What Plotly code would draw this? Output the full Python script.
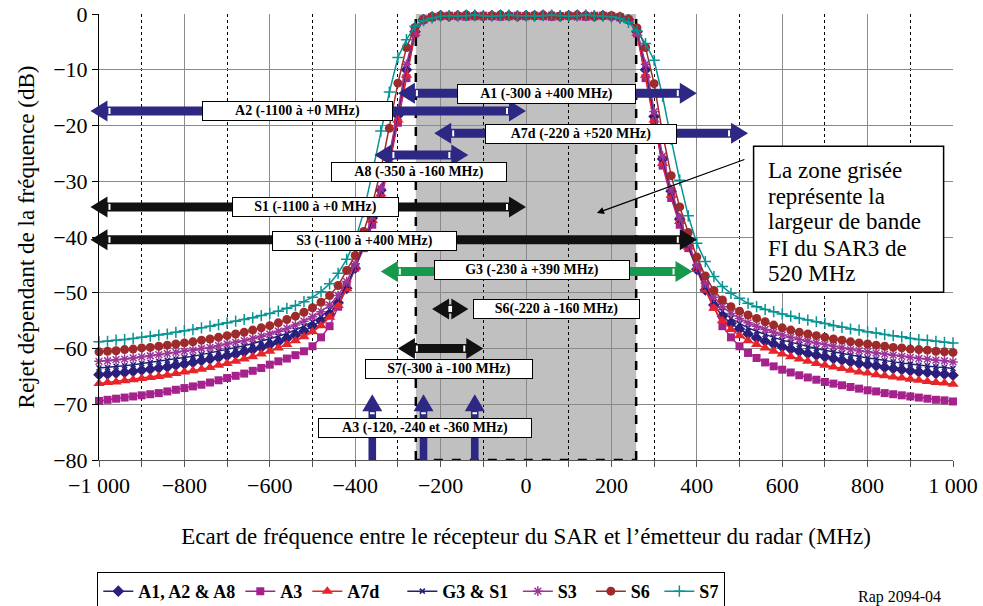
import plotly.graph_objects as go

# ---------------- data ----------------
freq = list(range(-1000, 1001, 20))

s_a1 = [-64.7, -64.6, -64.4, -64.3, -64.1, -63.9, -63.7, -63.5, -63.3, -63.0, -62.8, -62.5, -62.2, -61.9, -61.6, -61.3, -61.0, -60.6, -60.2, -59.8, -59.3, -58.8, -58.2, -57.6, -56.9,
        -56.0, -55.0, -53.8, -51.8, -49.2, -45.6, -41.3, -36.6, -31.6, -25.8, -18.2, -10.0, -3.2,
        -1.0, -0.5, -0.3, -0.4, -0.3, -0.2, -0.3, -0.4, -0.3, -0.2, -0.3, -0.4,
        -0.3,
        -0.3, -0.2, -0.3, -0.4, -0.3, -0.2, -0.3, -0.4, -0.3, -0.4, -0.6,
        -1.0, -3.2, -10.0, -18.4, -26.0, -31.8, -36.8, -41.5, -45.8, -49.5, -52.2, -54.2, -55.5, -56.5,
        -57.4, -58.1, -58.7, -59.2, -59.7, -60.1, -60.5, -60.9, -61.2, -61.5, -61.8, -62.1, -62.4, -62.7, -62.9, -63.1, -63.4, -63.6, -63.8, -64.0, -64.2, -64.3, -64.5, -64.6, -64.8]

s_a3 = [-69.4, -69.2, -69.0, -68.8, -68.6, -68.4, -68.2, -68.0, -67.7, -67.4, -67.1, -66.8, -66.5, -66.1, -65.7, -65.3, -64.9, -64.5, -64.0, -63.5, -62.9, -62.3, -61.8, -61.2, -60.5,
        -59.6, -58.0, -56.0, -52.5, -48.8, -45.5, -42.0, -37.8, -33.0, -27.2, -19.5, -11.5, -3.5,
        -1.0, -0.6, -0.4, -0.3, -0.4, -0.5, -0.4, -0.3, -0.4, -0.5, -0.4, -0.3,
        -0.4,
        -0.3, -0.4, -0.5, -0.4, -0.3, -0.4, -0.5, -0.4, -0.3, -0.4, -0.6,
        -1.0, -3.5, -11.5, -19.5, -27.2, -33.0, -37.8, -42.0, -45.5, -48.8, -52.5, -56.0, -58.0, -59.6,
        -60.8, -61.7, -62.5, -63.2, -63.8, -64.3, -64.8, -65.2, -65.6, -66.0, -66.3, -66.6, -66.9, -67.2, -67.5, -67.7, -68.0, -68.2, -68.4, -68.6, -68.8, -69.0, -69.2, -69.3, -69.5]

s_a7d = [-66.3, -66.1, -66.0, -65.8, -65.6, -65.4, -65.2, -65.0, -64.8, -64.5, -64.2, -64.0, -63.7, -63.4, -63.0, -62.7, -62.3, -61.9, -61.5, -61.0, -60.5, -59.9, -59.3, -58.6, -57.9,
         -57.0, -55.9, -54.4, -52.3, -49.3, -45.5, -41.5, -37.0, -32.3, -26.6, -19.0, -11.0, -3.5,
         -1.0, -0.5, -0.4, -0.3, -0.2, -0.3, -0.4, -0.3, -0.2, -0.3, -0.4, -0.3,
         -0.3,
         -0.4, -0.3, -0.2, -0.3, -0.4, -0.3, -0.2, -0.3, -0.4, -0.3, -0.6,
         -1.0, -3.5, -11.0, -19.0, -26.8, -32.5, -37.2, -41.8, -45.8, -49.5, -52.8, -55.0, -56.6, -57.7,
         -58.6, -59.3, -59.9, -60.5, -61.0, -61.5, -61.9, -62.3, -62.7, -63.0, -63.3, -63.6, -63.9, -64.2, -64.4, -64.7, -64.9, -65.1, -65.3, -65.5, -65.7, -65.9, -66.1, -66.2, -66.4]

s_g3s1 = [-63.5, -63.4, -63.2, -63.1, -62.9, -62.7, -62.5, -62.3, -62.1, -61.9, -61.6, -61.4, -61.1, -60.8, -60.5, -60.2, -59.9, -59.5, -59.1, -58.7, -58.3, -57.8, -57.3, -56.7, -56.0,
          -55.2, -54.3, -53.0, -51.3, -48.7, -45.4, -41.3, -36.8, -31.8, -25.8, -17.8, -9.5, -3.0,
          -1.0, -0.5, -0.3, -0.3, -0.4, -0.3, -0.2, -0.3, -0.4, -0.3, -0.3, -0.4,
          -0.3,
          -0.3, -0.4, -0.3, -0.2, -0.3, -0.4, -0.3, -0.3, -0.4, -0.3, -0.6,
          -1.0, -3.0, -9.5, -18.0, -26.0, -32.0, -37.0, -41.5, -45.6, -49.0, -51.6, -53.3, -54.6, -55.5,
          -56.3, -56.9, -57.5, -58.0, -58.5, -58.9, -59.3, -59.7, -60.0, -60.3, -60.6, -60.9, -61.2, -61.5, -61.7, -61.9, -62.2, -62.4, -62.6, -62.8, -63.0, -63.1, -63.3, -63.4, -63.6]

s_s3 = [-62.3, -62.2, -62.0, -61.9, -61.7, -61.5, -61.3, -61.1, -60.9, -60.7, -60.5, -60.3, -60.0, -59.8, -59.5, -59.2, -58.9, -58.6, -58.2, -57.8, -57.4, -56.9, -56.4, -55.8, -55.1,
        -54.3, -53.4, -52.2, -50.5, -48.0, -44.8, -40.8, -36.3, -31.3, -25.3, -17.3, -9.0, -3.0,
        -1.0, -0.5, -0.3, -0.4, -0.3, -0.2, -0.4, -0.5, -0.3, -0.2, -0.3, -0.4,
        -0.3,
        -0.4, -0.3, -0.2, -0.3, -0.4, -0.5, -0.3, -0.2, -0.3, -0.4, -0.6,
        -1.0, -3.0, -9.0, -17.5, -25.5, -31.5, -36.5, -41.0, -45.0, -48.3, -50.8, -52.5, -53.7, -54.6,
        -55.4, -56.0, -56.6, -57.1, -57.6, -58.0, -58.4, -58.7, -59.0, -59.3, -59.6, -59.9, -60.2, -60.4, -60.6, -60.8, -61.0, -61.2, -61.4, -61.6, -61.8, -61.9, -62.1, -62.2, -62.4]

s_s6 = [-60.6, -60.5, -60.4, -60.2, -60.1, -59.9, -59.8, -59.6, -59.4, -59.2, -59.0, -58.8, -58.5, -58.3, -58.0, -57.7, -57.4, -57.1, -56.7, -56.3, -55.9, -55.4, -54.8, -54.2, -53.5,
        -52.7, -51.7, -50.5, -48.7, -46.0, -43.3, -39.0, -34.2, -28.0, -20.5, -12.4, -6.0, -2.4,
        -1.0, -0.5, -0.3, -0.4, -0.3, -0.2, -0.3, -0.4, -0.3, -0.2, -0.3, -0.4,
        -0.3,
        -0.3, -0.2, -0.3, -0.4, -0.3, -0.2, -0.3, -0.4, -0.3, -0.3, -0.5,
        -1.0, -2.5, -6.0, -12.5, -21.5, -29.0, -34.6, -39.2, -43.6, -47.0, -49.6, -51.3, -52.5, -53.3,
        -54.0, -54.6, -55.2, -55.8, -56.3, -56.7, -57.1, -57.4, -57.7, -58.0, -58.3, -58.5, -58.8, -59.0, -59.2, -59.4, -59.6, -59.8, -59.9, -60.1, -60.2, -60.3, -60.5, -60.6, -60.7]

s_s7 = [-58.8, -58.7, -58.5, -58.4, -58.2, -58.0, -57.8, -57.6, -57.4, -57.1, -56.8, -56.6, -56.3, -56.0, -55.7, -55.4, -55.1, -54.8, -54.5, -54.1, -53.7, -53.3, -52.8, -52.3, -51.6,
        -50.8, -49.8, -48.4, -46.5, -44.0, -40.6, -35.5, -28.5, -21.0, -14.0, -7.8, -4.6, -2.2,
        -1.2, -0.7, -0.4, -0.3, -0.4, -0.3, -0.2, -0.3, -0.4, -0.3, -0.2, -0.3,
        -0.3,
        -0.4, -0.3, -0.2, -0.3, -0.4, -0.3, -0.2, -0.3, -0.4, -0.5, -0.8,
        -1.5, -3.0, -5.3, -8.3, -14.8, -22.5, -29.8, -36.2, -41.1, -44.4, -47.1, -48.9, -50.1, -51.0,
        -51.9, -52.5, -53.0, -53.4, -53.8, -54.2, -54.6, -54.9, -55.2, -55.5, -55.9, -56.2, -56.5, -56.7, -57.0, -57.2, -57.5, -57.7, -57.9, -58.2, -58.4, -58.5, -58.7, -58.9, -59.0]

series_names = ["A1, A2 & A8", "A3", "A7d", "G3 & S1", "S3", "S6", "S7"]
series_values = [s_a1, s_a3, s_a7d, s_g3s1, s_s3, s_s6, s_s7]

x_tickvals = [-1000, -800, -600, -400, -200, 0, 200, 400, 600, 800, 1000]
x_ticktext = ["\u22121 000", "\u2212800", "\u2212600", "\u2212400", "\u2212200", "0", "200", "400", "600", "800", "1 000"]
x_minorvals = [-900, -700, -500, -300, -100, 100, 300, 500, 700, 900]
y_tickvals = [0, -10, -20, -30, -40, -50, -60, -70, -80]
y_ticktext = ["0", "\u221210", "\u221220", "\u221230", "\u221240", "\u221250", "\u221260", "\u221270", "\u221280"]

band_edges = [-258, 258]  # SAR3 IF bandwidth (520 MHz)

# arrows: start, end, level, colour key
arrow_ranges = [
    (-300, 400, -14.2, "navy"),    # A1
    (-1020, 0, -17.4, "navy"),     # A2
    (-215, 520, -21.4, "navy"),    # A7d
    (-355, -135, -25.3, "navy"),   # A8
    (-1020, 0, -34.6, "black"),    # S1
    (-1020, 400, -40.5, "black"),  # S3
    (-340, 390, -46.2, "green"),   # G3
    (-220, -135, -52.9, "black"),  # S6
    (-300, -100, -60.0, "black"),  # S7
]
a3_offsets = [-360, -240, -120]
a3_tip = -68.2

labels = [
    ("A1 (-300 à +400 MHz)", 47, -14.3, 179),
    ("A2 (-1100 à +0 MHz)", -535, -17.4, 191),
    ("A7d (-220 à +520 MHz)", 129, -21.5, 192),
    ("A8 (-350 à -160 MHz)", -251, -28.4, 176),
    ("S1 (-1100 à +0 MHz)", -492, -34.7, 167),
    ("S3 (-1100 à +400 MHz)", -379, -40.7, 185),
    ("G3 (-230 à +390 MHz)", 13, -46.0, 196),
    ("S6(-220 à -160 MHz)", 72, -52.9, 167),
    ("S7(-300 à -100 MHz)", -180, -63.6, 168),
    ("A3 (-120, -240 et -360 MHz)", -237, -74.2, 214),
]
note_lines = ["La zone grisée", "représente la", "largeur de bande", "FI du SAR3 de", "520 MHz"]

# ---------------- style ----------------
FONT = "Liberation Serif"
NAVY = "#2A1F7C"
colors = [NAVY, "#A5228C", "#E62429", "#221E78", "#9B3598", "#9E2A2B", "#089494"]
symbols = ["diamond", "square", "triangle-up", "x-thin-open", "asterisk-open", "circle", "cross-thin-open"]
msizes = [9, 8, 10, 5, 8, 9, 8]
legend_pad = [0, 0, 4, 1, 2, 1, 0]   # extra legend spacing (non-breaking spaces)
arrow_colors = {"navy": "#2D2883", "black": "#111111", "green": "#16994A"}

XMIN, XMAX, YMIN, YMAX = -1000, 1000, -80, 0
L, R, T, B = 99, 30, 14, 146
W, H = 983, 606
PW, PH = W - L - R, H - T - B


def px(v):
    return (v - XMIN) / (XMAX - XMIN)


def py(v):
    return (v - YMIN) / (YMAX - YMIN)


fig = go.Figure()
for name, vals, c, s, ms, pad in zip(series_names, series_values, colors, symbols, msizes, legend_pad):
    if len(vals) != len(freq):
        raise ValueError(name + " length " + str(len(vals)))
    fig.add_trace(go.Scatter(
        x=freq, y=vals, name=name + "\u00a0" * pad, mode="lines+markers", cliponaxis=False,
        line=dict(color=c, width=1.5),
        marker=dict(symbol=s, size=ms, color=c, line=dict(color=c, width=1.5 if "open" in s else 0)),
    ))

shapes = []
# grey band
shapes.append(dict(type="rect", xref="x", yref="y", x0=band_edges[0], x1=band_edges[1], y0=YMIN, y1=YMAX,
                   fillcolor="#C0C0C0", line=dict(width=0), layer="below"))
for xe in band_edges:
    shapes.append(dict(type="line", xref="x", yref="y", x0=xe, x1=xe, y0=YMIN, y1=YMAX,
                       line=dict(color="black", width=2.5, dash="dash"), layer="between"))
shapes.append(dict(type="line", xref="x", yref="y", x0=band_edges[0], x1=band_edges[1], y0=YMIN, y1=YMIN,
                   line=dict(color="black", width=2.5, dash="dash"), layer="between"))

# horizontal double arrows
hl, hh, st = 17 / PW, 10.5 / PH, 4.5 / PH
for x0, x1, yv, ck in arrow_ranges:
    col = arrow_colors[ck]
    a, b, c = px(x0), px(x1), py(yv)
    path = (f"M {a},{c} L {a+hl},{c+hh} L {a+hl},{c+st} L {b-hl},{c+st} L {b-hl},{c+hh} L {b},{c} "
            f"L {b-hl},{c-hh} L {b-hl},{c-st} L {a+hl},{c-st} L {a+hl},{c-hh} Z")
    shapes.append(dict(type="path", xref="paper", yref="paper", path=path, fillcolor=col,
                       line=dict(width=0), layer="above"))
    for xs in (a + hl + 2 / PW, b - hl - 2 / PW):
        shapes.append(dict(type="line", xref="paper", yref="paper", x0=xs, x1=xs,
                           y0=c - st + 1.5 / PH, y1=c + st - 1.5 / PH,
                           line=dict(color="white", width=2), layer="above"))

# vertical arrows (A3)
vhl, vhw, vst = 17 / PH, 10 / PW, 3.8 / PW
for xv in a3_offsets:
    a, t = px(xv), py(a3_tip)
    path = (f"M {a},{t} L {a+vhw},{t-vhl} L {a+vst},{t-vhl} L {a+vst},0 L {a-vst},0 "
            f"L {a-vst},{t-vhl} L {a-vhw},{t-vhl} Z")
    shapes.append(dict(type="path", xref="paper", yref="paper", path=path, fillcolor=arrow_colors["navy"],
                       line=dict(width=0), layer="above"))
    ys = t - vhl - 2 / PH
    shapes.append(dict(type="line", xref="paper", yref="paper", x0=a - vst + 1.5 / PW, x1=a + vst - 1.5 / PW,
                       y0=ys, y1=ys, line=dict(color="white", width=2), layer="above"))

# note box
shapes.append(dict(type="rect", xref="x", yref="y", x0=533, x1=978, y0=-49.9, y1=-23.7,
                   fillcolor="white", line=dict(color="black", width=1.5), layer="above"))

annotations = []
for txt, xc, yc, w in labels:
    annotations.append(dict(x=xc, y=yc, xref="x", yref="y", text=txt, showarrow=False,
                            font=dict(family=FONT, size=14, color="black", weight="bold"),
                            bgcolor="white", bordercolor="black", borderwidth=1, borderpad=2,
                            width=w - 6, height=14, xanchor="center", yanchor="middle"))

note_y = [-28.0, -32.7, -37.3, -42.0, -46.6]
for line, yv in zip(note_lines, note_y):
    annotations.append(dict(x=561, y=yv, xref="x", yref="y", text=line, showarrow=False,
                            xanchor="left", yanchor="middle",
                            font=dict(family=FONT, size=23, color="black")))
annotations.append(dict(x=166, y=-35.7, xref="x", yref="y", ax=515, ay=-26.0, axref="x", ayref="y",
                        text="", showarrow=True, arrowhead=2, arrowsize=1.1, arrowwidth=1.3,
                        arrowcolor="black"))
annotations.append(dict(x=0.937, y=-0.307, xref="paper", yref="paper", text="Rap 2094-04",
                        showarrow=False, xanchor="center", yanchor="middle",
                        font=dict(family=FONT, size=16, color="black")))

fig.update_layout(
    width=W, height=H, margin=dict(l=L, r=R, t=T, b=B, autoexpand=False),
    paper_bgcolor="white", plot_bgcolor="white",
    font=dict(family=FONT, color="black"),
    shapes=shapes, annotations=annotations,
    showlegend=True,
    legend=dict(orientation="h", x=-0.002, xanchor="left", y=-0.251, yanchor="top",
                font=dict(family=FONT, size=18, color="black", weight="bold"),
                bordercolor="black", borderwidth=1, bgcolor="white",
                itemwidth=30, tracegroupgap=0, traceorder="normal"),
    xaxis=dict(range=[XMIN, XMAX], tickmode="array", tickvals=x_tickvals, ticktext=x_ticktext,
               showgrid=True, gridcolor="#8A8A8A", gridwidth=1, zeroline=False,
               showline=True, linecolor="#555555", linewidth=1,
               ticks="outside", ticklen=6, tickcolor="#555555",
               tickfont=dict(family=FONT, size=22, color="black"),
               minor=dict(tickmode="array", tickvals=x_minorvals, ticks="outside", ticklen=6,
                          tickcolor="#555555", showgrid=True, gridcolor="black", griddash="dot", gridwidth=1),
               title=dict(text="Ecart de fréquence entre le récepteur du SAR et l\u2019émetteur du radar (MHz)",
                          font=dict(family=FONT, size=23, color="black"), standoff=30),
               automargin=False),
    yaxis=dict(range=[YMIN, YMAX], tickmode="array", tickvals=y_tickvals, ticktext=y_ticktext,
               showgrid=True, gridcolor="#8A8A8A", gridwidth=1, zeroline=False,
               showline=True, linecolor="black", linewidth=1,
               ticks="outside", ticklen=6, tickcolor="black",
               tickfont=dict(family=FONT, size=22, color="black"),
               title=dict(text="Rejet dépendant de la fréquence (dB)",
                          font=dict(family=FONT, size=23, color="black"), standoff=12),
               automargin=False),
)

fig.write_html("out.html")
